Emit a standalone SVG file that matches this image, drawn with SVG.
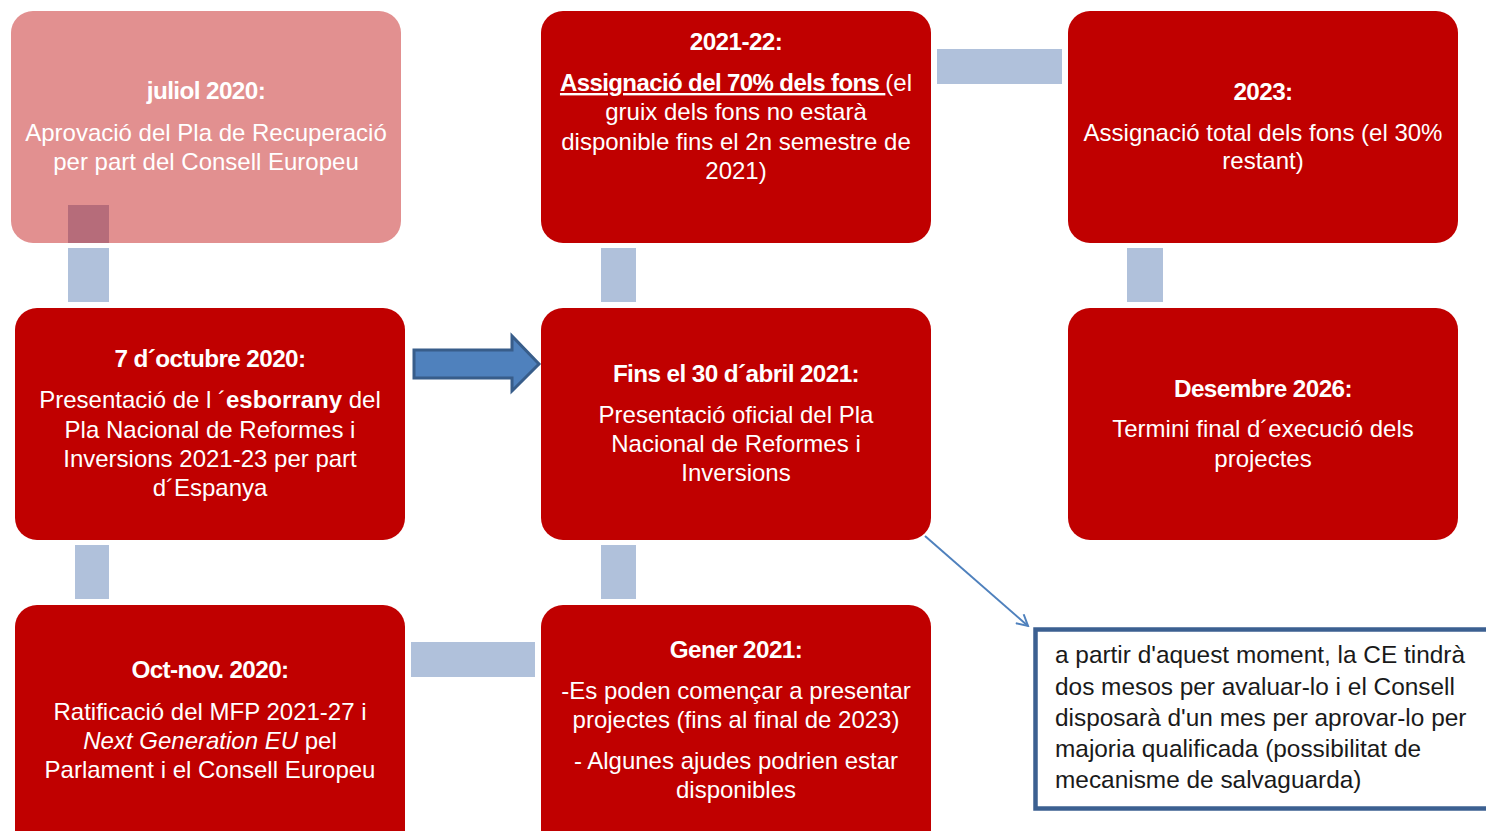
<svg xmlns="http://www.w3.org/2000/svg" width="1486" height="831" viewBox="0 0 1486 831">
<style>
.box{fill:#C00000;}
.pink{fill:#E29090;}
.conn{fill:#B0C1DB;}
.t{font-family:"Liberation Sans",Arial,sans-serif;fill:#FFFFFF;text-anchor:middle;font-size:24px;}
.h{font-weight:bold;font-size:24.3px;letter-spacing:-0.6px;}
.c{font-family:"Liberation Sans",Arial,sans-serif;fill:#1A1A1A;font-size:24.4px;}
</style>
<defs>
<marker id="open" markerWidth="14" markerHeight="14" refX="12" refY="7" orient="auto" markerUnits="userSpaceOnUse">
<path d="M1,1 L12,7 L1,13" fill="none" stroke="#4F81BD" stroke-width="2"/>
</marker>
</defs>
<rect width="1486" height="831" fill="#FFFFFF"/>

<g id="connectors">
<rect class="conn" x="68" y="248" width="41" height="54"/>
<rect class="conn" x="75" y="545" width="34" height="54"/>
<rect class="conn" x="411" y="642" width="124" height="35"/>
<rect class="conn" x="601" y="545" width="35" height="54"/>
<rect class="conn" x="601" y="248" width="35" height="54"/>
<rect class="conn" x="937" y="49" width="125" height="35"/>
<rect class="conn" x="1127" y="248" width="36" height="54"/>
<polygon points="414,350 512,350 512,336 539,364 512,391 512,378 414,378" fill="#4F81BD" stroke="#385D8A" stroke-width="3" stroke-linejoin="miter"/>
<line x1="925" y1="536" x2="1028" y2="626" stroke="#4F81BD" stroke-width="2" marker-end="url(#open)"/>
</g>

<g id="node-juliol2020">
<rect class="pink" x="11" y="11" width="390" height="232" rx="22"/>
<rect x="68" y="205" width="41" height="38" fill="#B66C7A"/>
<text class="t h" x="206" y="99">juliol 2020:</text>
<text class="t" x="206" y="141">Aprovació del Pla de Recuperació</text>
<text class="t" x="206" y="170">per part del Consell Europeu</text>
</g>

<g id="node-octubre2020">
<rect class="box" x="15" y="308" width="390" height="232" rx="22"/>
<text class="t h" x="210" y="367">7 d´octubre 2020:</text>
<text class="t" x="210" y="408">Presentació de l ´<tspan font-weight="bold">esborrany</tspan> del</text>
<text class="t" x="210" y="438">Pla Nacional de Reformes i</text>
<text class="t" x="210" y="467">Inversions 2021-23 per part</text>
<text class="t" x="210" y="496">d´Espanya</text>
</g>

<g id="node-octnov2020">
<rect class="box" x="15" y="605" width="390" height="260" rx="22"/>
<text class="t h" x="210" y="678">Oct-nov. 2020:</text>
<text class="t" x="210" y="720">Ratificació del MFP 2021-27 i</text>
<text class="t" x="210" y="749"><tspan font-style="italic">Next Generation EU</tspan> pel</text>
<text class="t" x="210" y="778">Parlament i el Consell Europeu</text>
</g>

<g id="node-gener2021">
<rect class="box" x="541" y="605" width="390" height="260" rx="22"/>
<text class="t h" x="736" y="658">Gener 2021:</text>
<text class="t" x="736" y="699">-Es poden començar a presentar</text>
<text class="t" x="736" y="728">projectes (fins al final de 2023)</text>
<text class="t" x="736" y="769">- Algunes ajudes podrien estar</text>
<text class="t" x="736" y="798">disponibles</text>
</g>

<g id="node-abril2021">
<rect class="box" x="541" y="308" width="390" height="232" rx="22"/>
<text class="t h" x="736" y="382">Fins el 30 d´abril 2021:</text>
<text class="t" x="736" y="423">Presentació oficial del Pla</text>
<text class="t" x="736" y="452">Nacional de Reformes i</text>
<text class="t" x="736" y="481">Inversions</text>
</g>

<g id="node-2021-22">
<rect class="box" x="541" y="11" width="390" height="232" rx="22"/>
<text class="t h" x="736" y="50">2021-22:</text>
<text class="t" x="736" y="91"><tspan font-weight="bold" letter-spacing="-0.6" text-decoration="underline">Assignació del 70% dels fons </tspan>(el</text>
<text class="t" x="736" y="120">gruix dels fons no estarà</text>
<text class="t" x="736" y="150">disponible fins el 2n semestre de</text>
<text class="t" x="736" y="179">2021)</text>
</g>

<g id="node-2023">
<rect class="box" x="1068" y="11" width="390" height="232" rx="22"/>
<text class="t h" x="1263" y="100">2023:</text>
<text class="t" x="1263" y="141">Assignació total dels fons (el 30%</text>
<text class="t" x="1263" y="169">restant)</text>
</g>

<g id="node-desembre2026">
<rect class="box" x="1068" y="308" width="390" height="232" rx="22"/>
<text class="t h" x="1263" y="397">Desembre 2026:</text>
<text class="t" x="1263" y="437">Termini final d´execució dels</text>
<text class="t" x="1263" y="467">projectes</text>
</g>

<g id="node-callout">
<rect x="1035.5" y="629.5" width="470" height="179" fill="#FFFFFF" stroke="#3C6091" stroke-width="4.5"/>
<text class="c" x="1055" y="663">a partir d'aquest moment, la CE tindrà</text>
<text class="c" x="1055" y="695">dos mesos per avaluar-lo i el Consell</text>
<text class="c" x="1055" y="726">disposarà d'un mes per aprovar-lo per</text>
<text class="c" x="1055" y="757">majoria qualificada (possibilitat de</text>
<text class="c" x="1055" y="788">mecanisme de salvaguarda)</text>
</g>
</svg>
